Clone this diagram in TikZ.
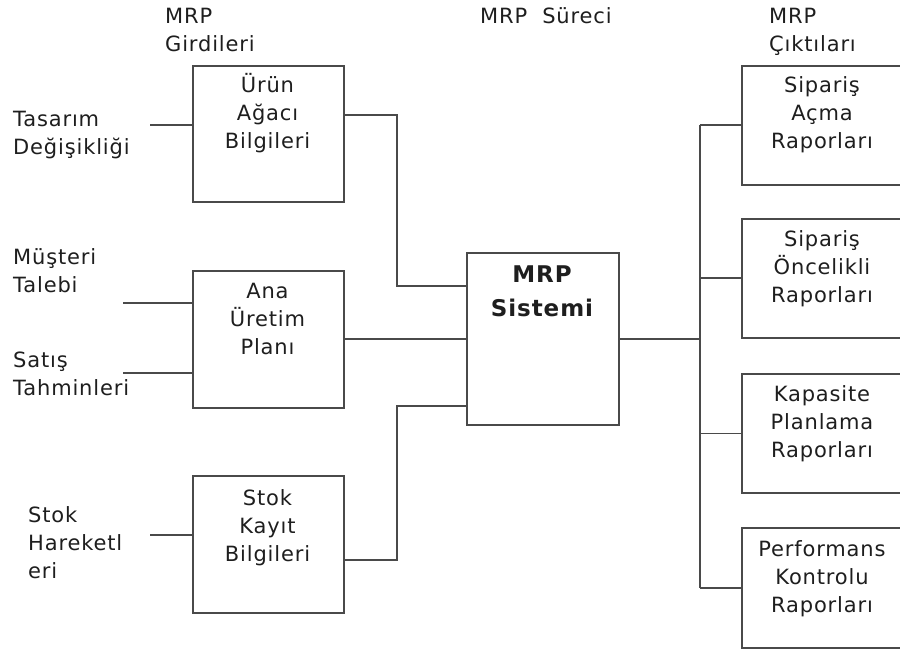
\documentclass[tikz,border=0pt]{standalone}
\usepackage{fontspec}
\setmainfont{DejaVu Sans}[LetterSpace=4]
% stacked lines whose reference point is the baseline of the first line
\newcommand\cstack[1]{\vtop{\halign{\hfil##\hfil\cr#1\crcr}}}
\newcommand\lstack[1]{\vtop{\halign{##\hfil\cr#1\crcr}}}
\definecolor{wire}{HTML}{4A4A4A}
\definecolor{ink}{HTML}{1E1E1E}
\begin{document}
\begin{tikzpicture}[x=1pt,y=-1pt,
  box/.style={draw=wire,line width=1.6pt,inner sep=0pt,anchor=north west},
  link/.style={draw=wire,line width=1.6pt},
  txt/.style={inner sep=0pt,text=ink,font=\fontsize{21}{28}\selectfont},
  ctxt/.style={txt,anchor=base},
  ltxt/.style={txt,anchor=base west},
  head/.style={inner sep=0pt,text=ink,font=\bfseries\fontsize{23}{34}\selectfont,anchor=base}]
\useasboundingbox (0,0) rectangle (900,652);
\clip (0,0) rectangle (900,652);

% column headings
\node[ltxt] (hin)  at (165,24) {\lstack{MRP\cr Girdileri}};
\node[ltxt] (hmid) at (480,24) {MRP\ \ Süreci};
\node[ltxt] (hout) at (769,24) {\lstack{MRP\cr Çıktıları}};

% input boxes
\node[box,minimum width=151pt,minimum height=136pt] (b1) at (192,65) {};
\node[box,minimum width=151pt,minimum height=137pt] (b2) at (192,270) {};
\node[box,minimum width=151pt,minimum height=137pt] (b3) at (192,475) {};
\node[ctxt] (t1) at (267.5,93)  {\cstack{Ürün\cr Ağacı\cr Bilgileri}};
\node[ctxt] (t2) at (267.5,299) {\cstack{Ana\cr Üretim\cr Planı}};
\node[ctxt] (t3) at (267.5,505) {\cstack{Stok\cr Kayıt\cr Bilgileri}};

% central system
\node[box,minimum width=152pt,minimum height=172pt] (sys) at (466,252) {};
\node[head] (tsys) at (542,283) {\cstack{MRP\cr Sistemi}};

% output boxes
\node[box,minimum width=162pt,minimum height=119pt] (r1) at (741,65) {};
\node[box,minimum width=162pt,minimum height=119pt] (r2) at (741,218) {};
\node[box,minimum width=162pt,minimum height=119pt] (r3) at (741,373) {};
\node[box,minimum width=162pt,minimum height=120pt] (r4) at (741,527) {};
\node[ctxt] (u1) at (822,93)  {\cstack{Sipariş\cr Açma\cr Raporları}};
\node[ctxt] (u2) at (822,247) {\cstack{Sipariş\cr Öncelikli\cr Raporları}};
\node[ctxt] (u3) at (822,402) {\cstack{Kapasite\cr Planlama\cr Raporları}};
\node[ctxt] (u4) at (822,556) {\cstack{Performans\cr Kontrolu\cr Raporları}};

% external sources
\node[ltxt] (s1) at (13,127) {\lstack{Tasarım\cr Değişikliği}};
\node[ltxt] (s2) at (13,265) {\lstack{Müşteri\cr Talebi}};
\node[ltxt] (s3) at (13,368) {\lstack{Satış\cr Tahminleri}};
\node[ltxt] (s4) at (28,522) {\lstack{Stok\cr Hareketl\cr eri}};

% source lines
\coordinate (i1) at (150,125);
\coordinate (i2) at (123,303);
\coordinate (i3) at (123,373);
\coordinate (i4) at (150,535);
\draw[link] (i1) -- (i1 -| b1.west);
\draw[link] (i2) -- (i2 -| b2.west);
\draw[link] (i3) -- (i3 -| b2.west);
\draw[link] (i4) -- (i4 -| b3.west);

% inputs into the system
\coordinate (j1) at (397,115);
\coordinate (k1) at (466,286);
\coordinate (j3) at (397,560);
\coordinate (k3) at (466,406);
\draw[link] (b1.east |- j1) -- (j1) |- (k1 -| sys.west);
\draw[link] (b2.east) -- (b2.east -| sys.west);
\draw[link] (b3.east |- j3) -- (j3) |- (k3 -| sys.west);

% outputs from the system
\coordinate (tr) at (700,338);
\draw[link] (sys.east) -- (sys.east -| tr);
\draw[link] (r1.west -| tr) -- (r4.west -| tr);
\foreach \i in {1,2,3,4}
  \draw[link] (r\i.west -| tr) -- (r\i.west);
\end{tikzpicture}
\end{document}
